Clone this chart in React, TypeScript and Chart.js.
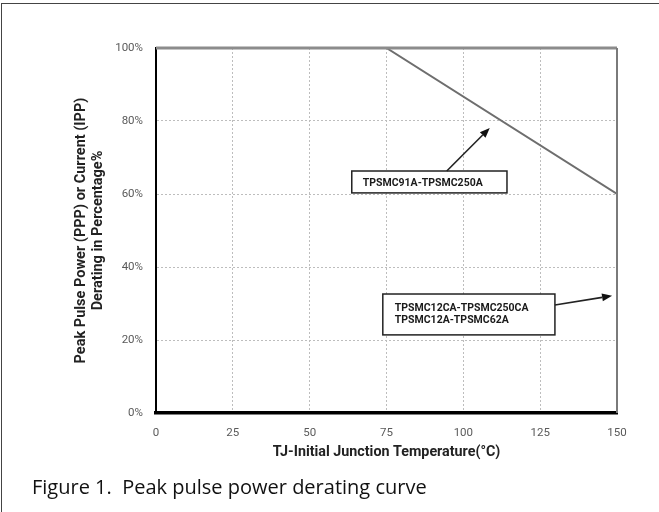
import { useEffect, useRef } from "react";
import { Chart, registerables } from "chart.js";

Chart.register(...registerables);

// ---- data ----
const temperatures = [0, 75, 150];
const deratingPct = [100, 100, 60];
const xTickValues = [0, 25, 50, 75, 100, 125, 150];
const yTickValues = [0, 20, 40, 60, 80, 100];
const xTitle = "TJ-Initial Junction Temperature(°C)";
const yTitle = ["Peak Pulse Power (PPP) or Current (IPP)", "Derating in Percentage%"];
const caption = "Figure 1.  Peak pulse power derating curve";
const calloutTexts = [
  ["TPSMC91A-TPSMC250A"],
  ["TPSMC12CA-TPSMC250CA", "TPSMC12A-TPSMC62A"],
];

// callout placement in data units (x: °C, y: %)
const calloutBoxes = [
  { x0: 63.7, x1: 114.2, yTop: 66.3, yBottom: 60.3, from: [94.6, 66.3], to: [108.6, 78.1] },
  { x0: 73.8, x1: 129.8, yTop: 32.6, yBottom: 21.4, from: [129.8, 29.6], to: [148.4, 32.1] },
];

const NARROW = '"Liberation Sans Narrow", "Arial Narrow", Roboto, sans-serif';

const overlayPlugin = {
  id: "overlay",
  afterDatasetsDraw(chart: any) {
    const { ctx, chartArea: a, scales } = chart;
    const xs = scales.x;
    const ys = scales.y;
    ctx.save();
    // top and right plot frame
    ctx.strokeStyle = "#8c8c8c";
    ctx.lineWidth = 3;
    ctx.beginPath();
    ctx.moveTo(a.left, a.top);
    ctx.lineTo(a.right, a.top);
    ctx.stroke();
    ctx.lineWidth = 2;
    ctx.strokeStyle = "#7a7a7a";
    ctx.beginPath();
    ctx.moveTo(a.right, a.top);
    ctx.lineTo(a.right, a.bottom);
    ctx.stroke();

    // callouts
    calloutBoxes.forEach((b, i) => {
      const left = xs.getPixelForValue(b.x0);
      const right = xs.getPixelForValue(b.x1);
      const top = ys.getPixelForValue(b.yTop);
      const bottom = ys.getPixelForValue(b.yBottom);
      ctx.fillStyle = "#ffffff";
      ctx.fillRect(left, top, right - left, bottom - top);
      ctx.strokeStyle = "#222";
      ctx.lineWidth = 1.5;
      ctx.strokeRect(left, top, right - left, bottom - top);

      const lines = calloutTexts[i];
      ctx.fillStyle = "#1a1a1a";
      ctx.font = `bold 10.5px ${NARROW}`;
      ctx.textBaseline = "middle";
      ctx.textAlign = "left";
      const lh = 12.5;
      const cy = (top + bottom) / 2;
      const startY = cy - ((lines.length - 1) * lh) / 2;
      lines.forEach((t, k) => {
        ctx.fillText(t, left + (lines.length > 1 ? 12 : 11), startY + k * lh + (lines.length > 1 ? 0 : 1));
      });

      // arrow
      const fx = xs.getPixelForValue(b.from[0]);
      const fy = ys.getPixelForValue(b.from[1]);
      const tx = xs.getPixelForValue(b.to[0]);
      const ty = ys.getPixelForValue(b.to[1]);
      const ang = Math.atan2(ty - fy, tx - fx);
      const hl = 10;
      const hw = 4;
      const bx = tx - hl * Math.cos(ang);
      const by = ty - hl * Math.sin(ang);
      ctx.strokeStyle = "#222";
      ctx.lineWidth = 1.6;
      ctx.beginPath();
      ctx.moveTo(fx, fy);
      ctx.lineTo(bx, by);
      ctx.stroke();
      ctx.fillStyle = "#111";
      ctx.beginPath();
      ctx.moveTo(tx, ty);
      ctx.lineTo(bx + hw * Math.sin(ang), by - hw * Math.cos(ang));
      ctx.lineTo(bx - hw * Math.sin(ang), by + hw * Math.cos(ang));
      ctx.closePath();
      ctx.fill();
    });
    ctx.restore();
  },
};

export default function App() {
  const ref = useRef<HTMLCanvasElement | null>(null);

  useEffect(() => {
    if (!ref.current) return;
    const chart = new Chart(ref.current, {
      type: "line",
      data: {
        datasets: [
          {
            data: temperatures.map((t, i) => ({ x: t, y: deratingPct[i] })),
            borderColor: "#6e6e6e",
            borderWidth: 2,
            pointRadius: 0,
            fill: false,
            tension: 0,
          },
        ],
      },
      options: {
        animation: false,
        responsive: false,
        layout: { padding: { left: 0, top: 48, right: 42, bottom: 49 } },
        plugins: { legend: { display: false }, tooltip: { enabled: false }, title: { display: false } },
        scales: {
          x: {
            type: "linear",
            min: 0,
            max: 150,
            afterBuildTicks: (s: any) => {
              s.ticks = xTickValues.map((v) => ({ value: v }));
            },
            afterFit: (s: any) => {
              s.height = 50;
            },
            ticks: {
              autoSkip: false,
              maxRotation: 0,
              padding: 13,
              color: "#5a5a5a",
              font: { family: NARROW, size: 11.5 },
            },
            grid: { color: "#bdbdbd", lineWidth: 1, drawTicks: false },
            border: { display: true, color: "#000", width: 3.5, dash: [2, 2] },
            title: {
              display: true,
              text: xTitle,
              color: "#222",
              font: { family: NARROW, size: 14.3, weight: "bold", lineHeight: 1.2 },
              padding: { top: 0, bottom: 1.5 },
            },
          },
          y: {
            type: "linear",
            min: 0,
            max: 100,
            afterBuildTicks: (s: any) => {
              s.ticks = yTickValues.map((v) => ({ value: v }));
            },
            afterFit: (s: any) => {
              s.width = 156;
            },
            ticks: {
              autoSkip: false,
              padding: 13,
              color: "#5a5a5a",
              font: { family: NARROW, size: 11.5 },
              callback: (v: any) => `${v}%`,
            },
            grid: { color: "#bdbdbd", lineWidth: 1, drawTicks: false },
            border: { display: true, color: "#000", width: 2, dash: [2, 2] },
            title: {
              display: true,
              text: yTitle,
              color: "#222",
              font: { family: NARROW, size: 14.5, weight: "bold", lineHeight: 1.18 },
              padding: { top: 72.5, bottom: 0 },
            },
          },
        },
      },
      plugins: [overlayPlugin],
    } as any);
    return () => chart.destroy();
  }, []);

  return (
    <div
      style={{
        position: "fixed",
        left: 0,
        top: 0,
        width: 659,
        height: 512,
        overflow: "hidden",
        background: "#fff",
      }}
    >
      <div
        style={{
          position: "absolute",
          left: 1,
          top: 3,
          width: 720,
          height: 600,
          borderLeft: "1.5px solid #444",
          borderTop: "1.5px solid #444",
        }}
      />
      <canvas ref={ref} width={659} height={512} style={{ position: "absolute", left: 0, top: 0, width: 659, height: 512 }} />
      <div
        style={{
          position: "absolute",
          left: 32,
          top: 473,
          fontFamily: '"Open Sans", "Noto Sans", sans-serif',
          fontSize: 20,
          lineHeight: "27px",
          color: "#111",
          whiteSpace: "pre",
        }}
      >
        {caption}
      </div>
    </div>
  );
}
